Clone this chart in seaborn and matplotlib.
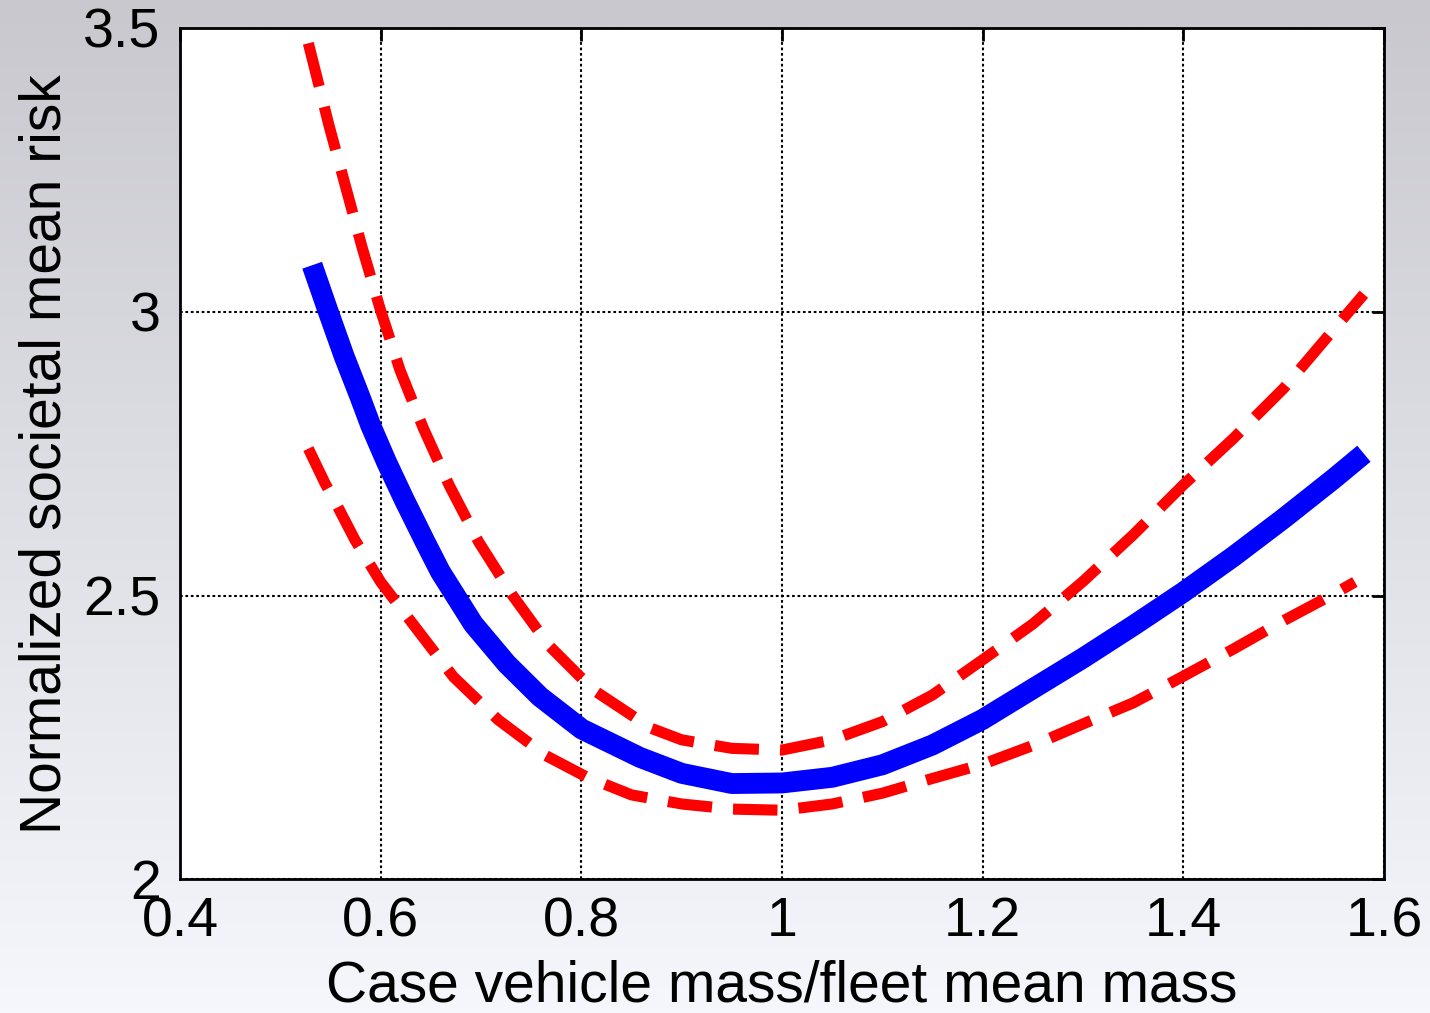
import numpy as np
import pandas as pd
import matplotlib
matplotlib.use("Agg")
import matplotlib.pyplot as plt
import seaborn as sns

# ---- data ----
mean_x = [0.5317, 0.5478, 0.5635, 0.5794, 0.590, 0.6059, 0.6232, 0.6442, 0.6595, 0.6923,
          0.7256, 0.7588, 0.8004, 0.8585, 0.90, 0.95, 1.0, 1.05, 1.1, 1.15, 1.2, 1.25,
          1.3, 1.35, 1.4, 1.45, 1.5, 1.55, 1.58]
mean_risk = [3.082, 3.000, 2.922, 2.850, 2.800, 2.735, 2.670, 2.595, 2.542, 2.450,
             2.380, 2.322, 2.265, 2.215, 2.187, 2.169, 2.170, 2.180, 2.202, 2.237, 2.282, 2.336,
             2.390, 2.447, 2.506, 2.569, 2.636, 2.706, 2.750]

upper_x = [0.5279, 0.5485, 0.5651, 0.5817, 0.5993, 0.6193, 0.6425, 0.6681, 0.6975, 0.7316,
           0.7678, 0.8119, 0.8701, 0.90, 0.95, 1.0, 1.05, 1.1, 1.15, 1.2, 1.25, 1.3,
           1.35, 1.4, 1.45, 1.5, 1.55, 1.58]
upper_risk = [3.473, 3.328, 3.220, 3.112, 3.006, 2.897, 2.795, 2.695, 2.595, 2.500,
              2.412, 2.334, 2.266, 2.246, 2.231, 2.228, 2.246, 2.278, 2.325, 2.387, 2.450, 2.525,
              2.607, 2.695, 2.777, 2.865, 2.969, 3.031]

lower_x = [0.5279, 0.5445, 0.5562, 0.5744, 0.60, 0.6725, 0.7173, 0.7649, 0.8048, 0.85,
           0.90, 0.95, 1.0, 1.05, 1.1, 1.15, 1.2, 1.25, 1.3, 1.35, 1.4, 1.45, 1.5, 1.55, 1.571]
lower_risk = [2.759, 2.698, 2.660, 2.598, 2.524, 2.357, 2.281, 2.218, 2.181, 2.149,
              2.133, 2.124, 2.122, 2.133, 2.152, 2.178, 2.203, 2.236, 2.274, 2.311, 2.358,
              2.406, 2.456, 2.503, 2.524]

x_ticks = [0.4, 0.6, 0.8, 1.0, 1.2, 1.4, 1.6]
x_tick_labels = ["0.4", "0.6", "0.8", "1", "1.2", "1.4", "1.6"]
y_ticks = [2.0, 2.5, 3.0, 3.5]
y_tick_labels = ["2", "2.5", "3", "3.5"]
x_label = "Case vehicle mass/fleet mean mass"
y_label = "Normalized societal mean risk"

# ---- style ----
sns.set_theme(style="white")
plt.rcParams["font.family"] = ["Liberation Sans", "DejaVu Sans"]

fig = plt.figure(figsize=(14.3, 10.13), dpi=100)

# gradient background
bg = fig.add_axes([0, 0, 1, 1], zorder=-10)
grad = np.linspace(0, 1, 256).reshape(-1, 1)
top = np.array([200, 200, 206]) / 255.0
bot = np.array([245, 247, 252]) / 255.0
img = top[None, None, :] * (1 - grad[:, :, None]) + bot[None, None, :] * grad[:, :, None]
bg.imshow(img, aspect="auto", extent=[0, 1, 0, 1], origin="upper")
bg.axis("off")

ax = fig.add_axes([0.1259, 0.1318, 0.9678 - 0.1259, 0.9724 - 0.1318])
ax.set_facecolor("white")

df_mean = pd.DataFrame({"x": mean_x, "y": mean_risk})
df_up = pd.DataFrame({"x": upper_x, "y": upper_risk})
df_lo = pd.DataFrame({"x": lower_x, "y": lower_risk})

dash = (0, (4.0, 1.9))
sns.lineplot(data=df_up, x="x", y="y", ax=ax, color="#ff0000", linewidth=8,
             linestyle=dash, sort=False, estimator=None, zorder=2,
             dash_capstyle="butt", dash_joinstyle="round")
sns.lineplot(data=df_lo, x="x", y="y", ax=ax, color="#ff0000", linewidth=8,
             linestyle=dash, sort=False, estimator=None, zorder=2,
             dash_capstyle="butt", dash_joinstyle="round")
sns.lineplot(data=df_mean, x="x", y="y", ax=ax, color="#0000ff", linewidth=15,
             sort=False, estimator=None, zorder=3,
             solid_capstyle="butt", solid_joinstyle="round")

ax.set_xlim(0.4, 1.6)
ax.set_ylim(2.0, 3.5)
ax.set_xticks(x_ticks)
ax.set_xticklabels(x_tick_labels)
ax.set_yticks(y_ticks)
ax.set_yticklabels(y_tick_labels)

ax.grid(True, color="black", linestyle=(0, (1.3, 1.3)), linewidth=1.5)
ax.set_axisbelow(True)

for s in ax.spines.values():
    s.set_visible(True)
    s.set_color("black")
    s.set_linewidth(2)

ax.tick_params(axis="both", direction="in", length=9, width=2, color="black",
               top=True, right=True, labelsize=40, labelcolor="black")
ax.tick_params(axis="x", pad=12)
ax.tick_params(axis="y", pad=14)

ax.set_xlabel(x_label, fontsize=41, color="black", labelpad=8)
ax.set_ylabel(y_label, fontsize=41, color="black", labelpad=8)

fig.savefig("out.png", dpi=100)
